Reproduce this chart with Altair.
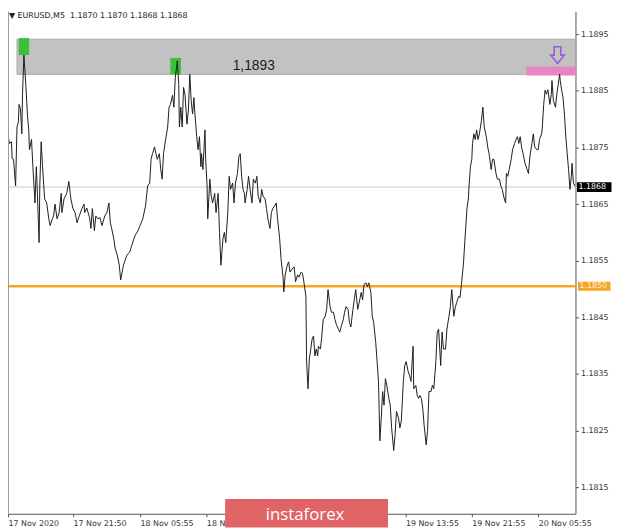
import altair as alt
import pandas as pd

# ---- price line (bar index, close) ----
bars = [0,2,5,6,8,11,13,15,16,18,20,21,23,26,28,30,31,34,36,39,41,42,45,46,48,50,53,56,59,61,64,66,68,71,74,77,78,81,85,88,91,94,97,100,103,107,110,111,114,118,120,122,125,127,130,133,136,140,143,146,148,150,153,155,158,161,163,167,172,176,179,184,188,191,195,199,202,205,207,
        209,212,214,216,219,221,223,225,228,231,233,235,238,240,242,245,247,248,250,252,254,256,259,261,263,265,267,269,270,273,275,277,279,280,282,285,286,288,289,292,294,296,299,301,304,306,308,311,313,315,318,320,322,325,327,329,332,334,336,338,340,342,343,346,348,351,353,355,358,360,362,365,367,369,372,374,376,379,381,383,386,388,390,393,395,398,399,401,404,406,408,412,
        414,416,419,421,424,426,428,431,432,434,436,438,440,442,444,446,448,449,452,454,456,459,461,463,466,468,471,473,475,478,480,482,485,487,489,492,494,496,499,501,503,506,508,511,513,515,518,520,522,525,527,529,532,534,536,538,540,542,544,546,548,551,553,555,558,560,562,565,567,569,572,574,576,579,581,583,586,587,590,592,594,596,598,600,602,605,607,609,612,614,616,619,621,623,626,628,630,633,635,638,640,642,645,647,649,652,654,656,659,661,
        664,666,667,669,671,672,674,676,678,680,682,685,687,689,692,694,696,699,701,703,706,708,711,713,715,718,720,721,723,725,728,730,733,735,737,739,741,743,746,748,751,753,755,758,760,762,765,767,769,772,773,775,777,779,781,784,786,787,789,792,794,796,798,799,801,803,805,807,809,811,813,815,816,818,820]

prices = [1.18772,1.18757,1.18760,1.18730,1.18729,1.18682,1.18786,1.18795,1.18826,1.18818,
          1.18774,1.18844,1.18913,1.18856,1.18809,1.18781,1.18746,1.18764,1.18716,1.18652,
          1.18716,1.18687,1.18582,1.18682,1.18760,1.18716,1.18659,1.18652,1.18624,1.18612,
          1.18624,1.18629,1.18650,1.18624,1.18635,1.18669,1.18635,1.18659,1.18669,1.18690,
          1.18659,1.18642,1.18635,1.18617,1.18629,1.18642,1.18650,1.18635,1.18643,1.18626,
          1.18607,1.18642,1.18603,1.18629,1.18624,1.18626,1.18612,1.18629,1.18635,1.18652,
          1.18617,1.18607,1.18589,1.18572,1.18560,1.18542,1.18516,1.18542,1.18560,1.18565,
          1.18577,1.18595,1.18603,1.18612,1.18624,1.18647,1.18682,1.18687,1.18729,
          1.18739,1.18751,1.18739,1.18729,1.18739,1.18711,1.18694,1.18739,1.18764,1.18786,
          1.18821,1.18826,1.18842,1.18821,1.18873,1.18903,1.18861,1.18786,1.18821,1.18786,
          1.18856,1.18844,1.18791,1.18816,1.18879,1.18833,1.18809,1.18838,1.18816,1.18769,
          1.18746,1.18769,1.18716,1.18739,1.18711,1.18781,1.18729,1.18682,1.18624,1.18694,
          1.18664,1.18652,1.18669,1.18635,1.18669,1.18600,1.18542,1.18589,1.18600,1.18582,
          1.18635,1.18699,1.18676,1.18687,1.18652,1.18687,1.18704,1.18734,1.18739,1.18699,
          1.18676,1.18669,1.18652,1.18676,1.18699,1.18669,1.18652,1.18694,1.18687,1.18699,
          1.18664,1.18652,1.18676,1.18664,1.18659,1.18642,1.18624,1.18607,1.18635,1.18642,
          1.18647,1.18652,1.18624,1.18589,1.18554,1.18520,1.18495,1.18525,1.18542,1.18548,
          1.18530,1.18537,
          1.18539,1.18513,1.18525,1.18521,1.18530,1.18528,1.18513,1.18487,1.18372,1.18324,
          1.18377,1.18394,1.18412,1.18417,1.18382,1.18394,1.18382,1.18399,1.18394,1.18417,
          1.18446,1.18452,1.18464,1.18499,1.18469,1.18459,1.18459,1.18446,1.18438,1.18429,
          1.18424,1.18434,1.18446,1.18459,1.18469,1.18464,1.18441,1.18433,1.18464,1.18481,
          1.18499,1.18464,1.18476,1.18494,1.18481,1.18508,1.18511,1.18504,1.18511,1.18494,
          1.18452,1.18441,1.18406,1.18372,1.18337,1.18232,1.18272,1.18319,1.18295,1.18342,
          1.18330,1.18307,1.18295,1.18255,1.18215,1.18243,1.18284,1.18272,1.18255,1.18267,
          1.18337,1.18365,1.18372,1.18354,1.18347,1.18337,1.18399,1.18324,1.18330,1.18312,
          1.18307,1.18312,1.18307,1.18290,1.18260,1.18225,1.18250,1.18319,1.18319,1.18330,
          1.18324,1.18372,1.18424,1.18429,1.18365,1.18424,1.18394,1.18394,1.18429,1.18452,
          1.18469,1.18499,1.18452,1.18467,1.18476,1.18487,1.18485,1.18508,1.18546,1.18586,
          1.18642,1.18659,1.18682,1.18716,1.18729,1.18757,1.18774,1.18764,1.18781,1.18764,
          1.18774,1.18798,1.18821,1.18786,1.18769,1.18751,1.18739,1.18711,1.18729,1.18729,
          1.18704,1.18694,1.18694,1.18682,1.18676,1.18659,1.18652,1.18704,1.18699,1.18711,
          1.18729,1.18746,1.18757,1.18764,1.18769,1.18757,1.18769,1.18751,1.18734,1.18722,
          1.18711,1.18704,1.18734,1.18757,1.18774,1.18751,1.18746,1.18746,1.18764,1.18774,
          1.18786,1.18826,1.18851,1.18844,1.18852,1.18826,1.18844,1.18868,1.18833,1.18821,
          1.18844,1.18861,1.18879,1.18868,1.18851,1.18838,1.18809,1.18769,1.18739,1.18711,
          1.18676,1.18699,1.18722,1.18687,1.18682]

# ---- axes ----
tick_bars = [0, 94, 191, 287, 383, 479, 575, 671, 767]
# the two labels under the logo are not visible in the reference
tick_labels = ["17 Nov 2020", "17 Nov 21:50", "18 Nov 05:55", "18 Nov 13:55", "",
               "", "19 Nov 13:55", "19 Nov 21:55", "20 Nov 05:55"]
y_ticks = [1.1815, 1.1825, 1.1835, 1.1845, 1.1855, 1.1865, 1.1875, 1.1885, 1.1895]
x_domain = [0, 821]
y_domain = [1.181033, 1.189901]

# ---- annotations ----
header_text = "\u25BC EURUSD,M5\u00a0 1.1870 1.1870 1.1868 1.1868"
zone_start, zone_end = [13], [821]
zone_lo, zone_hi = [1.18879], [1.18941]
zone_label = ["1,1893"]
zone_label_bar, zone_label_price = [325], [1.18893]
mark_x0, mark_x1 = [15.5, 234.8], [30.5, 250.3]
mark_lo, mark_hi = [1.18913, 1.18879], [1.18943, 1.18908]
target_x0, target_x1 = [750], [821]
target_lo, target_hi = [1.18877], [1.18893]
arrow_bar, arrow_price = [795], [1.18913]
level_price, level_text = [1.18505], ["1.1850"]
last_price, last_text = [1.1868], ["1.1868"]
logo_text = ["instaforex"]

W, H = 575, 509
FONT = "DejaVu Sans"

xs = alt.Scale(domain=x_domain, nice=False, zero=False)
ys = alt.Scale(domain=y_domain, nice=False, zero=False)

expr = "''"
for b, l in reversed(list(zip(tick_bars, tick_labels))):
    expr = f"datum.value == {b} ? '{l}' : {expr}"

xaxis = alt.Axis(values=tick_bars, labelExpr=expr, title=None, grid=False,
                 labelAlign="left", labelBaseline="top", labelFont=FONT, labelFontSize=8,
                 labelColor="#333333", tickSize=3, tickColor="#555555", domainColor="#555555",
                 labelPadding=3, labelFlush=False, labelOverlap=False, labelBound=False)
yaxis = alt.Axis(orient="right", values=y_ticks, format=".4f", title=None, grid=False,
                 labelFont=FONT, labelFontSize=8, labelColor="#333333", tickSize=3,
                 tickColor="#555555", domainColor="#555555", labelPadding=2,
                 labelOverlap=False, labelFlush=False, labelBaseline="middle")

def X(f):
    return alt.X(f, scale=xs, axis=xaxis)

def Y(f):
    return alt.Y(f, scale=ys, axis=yaxis)

zone = alt.Chart(pd.DataFrame({"x0": zone_start, "x1": zone_end, "lo": zone_lo, "hi": zone_hi})).mark_rect(
    color="#c2c2c2", stroke="#a9a9a9", strokeWidth=1).encode(x=X("x0:Q"), x2="x1:Q", y=Y("lo:Q"), y2="hi:Q")

greens = alt.Chart(pd.DataFrame({"x0": mark_x0, "x1": mark_x1, "lo": mark_lo, "hi": mark_hi})).mark_rect(
    color="#3cc03c").encode(x=X("x0:Q"), x2="x1:Q", y=Y("lo:Q"), y2="hi:Q")

pink = alt.Chart(pd.DataFrame({"x0": target_x0, "x1": target_x1, "lo": target_lo, "hi": target_hi})).mark_rect(
    color="#e684c4").encode(x=X("x0:Q"), x2="x1:Q", y=Y("lo:Q"), y2="hi:Q")

cur_rule = alt.Chart(pd.DataFrame({"p": last_price})).mark_rule(
    color="#c8c8c8", strokeWidth=1).encode(y=Y("p:Q"))

level_rule = alt.Chart(pd.DataFrame({"p": level_price})).mark_rule(
    color="#f4a522", strokeWidth=2.5).encode(y=Y("p:Q"))

line = alt.Chart(pd.DataFrame({"bar": bars, "price": prices})).mark_line(
    color="#1c1c1c", strokeWidth=1).encode(x=X("bar:Q"), y=Y("price:Q"))

arrow_path = "M-0.4,-1L0.4,-1L0.4,0L0.82,0L0,1L-0.82,0L-0.4,0Z"
arrow = alt.Chart(pd.DataFrame({"b": arrow_bar, "p": arrow_price})).mark_point(
    shape=arrow_path, size=289, filled=False, color="#9a5ad6", strokeWidth=1.6, opacity=1).encode(
    x=X("b:Q"), y=Y("p:Q"))

zlabel = alt.Chart(pd.DataFrame({"b": zone_label_bar, "p": zone_label_price, "t": zone_label})).mark_text(
    align="left", baseline="middle", font="Liberation Sans", fontSize=14, color="#1a1a1a").encode(
    x=X("b:Q"), y=Y("p:Q"), text="t:N")

header = alt.Chart(pd.DataFrame({"t": [header_text]})).mark_text(
    align="left", baseline="middle", font=FONT, fontSize=8, color="#222222").encode(
    x=alt.value(1), y=alt.value(5), text="t:N")

level_box = alt.Chart(pd.DataFrame({"p": level_price})).mark_tick(
    orient="horizontal", size=33, thickness=9, color="#f4a522", opacity=1).encode(
    x=alt.value(W + 19), y=Y("p:Q"))
level_lbl = alt.Chart(pd.DataFrame({"p": level_price, "t": level_text})).mark_text(
    align="left", baseline="middle", font=FONT, fontSize=8, color="#fff4e0").encode(
    x=alt.value(W + 4), y=Y("p:Q"), text="t:N")

last_box = alt.Chart(pd.DataFrame({"p": last_price})).mark_tick(
    orient="horizontal", size=35, thickness=10, color="#000000", opacity=1).encode(
    x=alt.value(W + 19), y=Y("p:Q"))
last_lbl = alt.Chart(pd.DataFrame({"p": last_price, "t": last_text})).mark_text(
    align="left", baseline="middle", font=FONT, fontSize=8, color="#ffffff").encode(
    x=alt.value(W + 3), y=Y("p:Q"), text="t:N")

frame = alt.Chart(pd.DataFrame({"a": [0]})).mark_rule(color="#9a9a9a", strokeWidth=1).encode(
    x=alt.value(0.5), y=alt.value(0), y2=alt.value(H))

logo_box = alt.Chart(pd.DataFrame({"a": [0]})).mark_rect(color="#e06466").encode(
    x=alt.value(220), x2=alt.value(385), y=alt.value(494), y2=alt.value(523))
logo_lbl = alt.Chart(pd.DataFrame({"t": logo_text})).mark_text(
    align="center", baseline="alphabetic", font="Open Sans", fontSize=17, color="#ffffff").encode(
    x=alt.value(301), y=alt.value(515), text="t:N")

chart = alt.layer(
    zone, pink, greens, cur_rule, level_rule, line, arrow, zlabel, header,
    level_box, level_lbl, last_box, last_lbl, frame, logo_box, logo_lbl
).properties(
    width=W, height=H,
    autosize=alt.AutoSizeParams(type="none"),
    padding={"left": 0, "top": 0, "right": 37, "bottom": 14},
).configure_view(stroke=None)

chart.save("out.html", embed_options={"renderer": "svg", "actions": False})
